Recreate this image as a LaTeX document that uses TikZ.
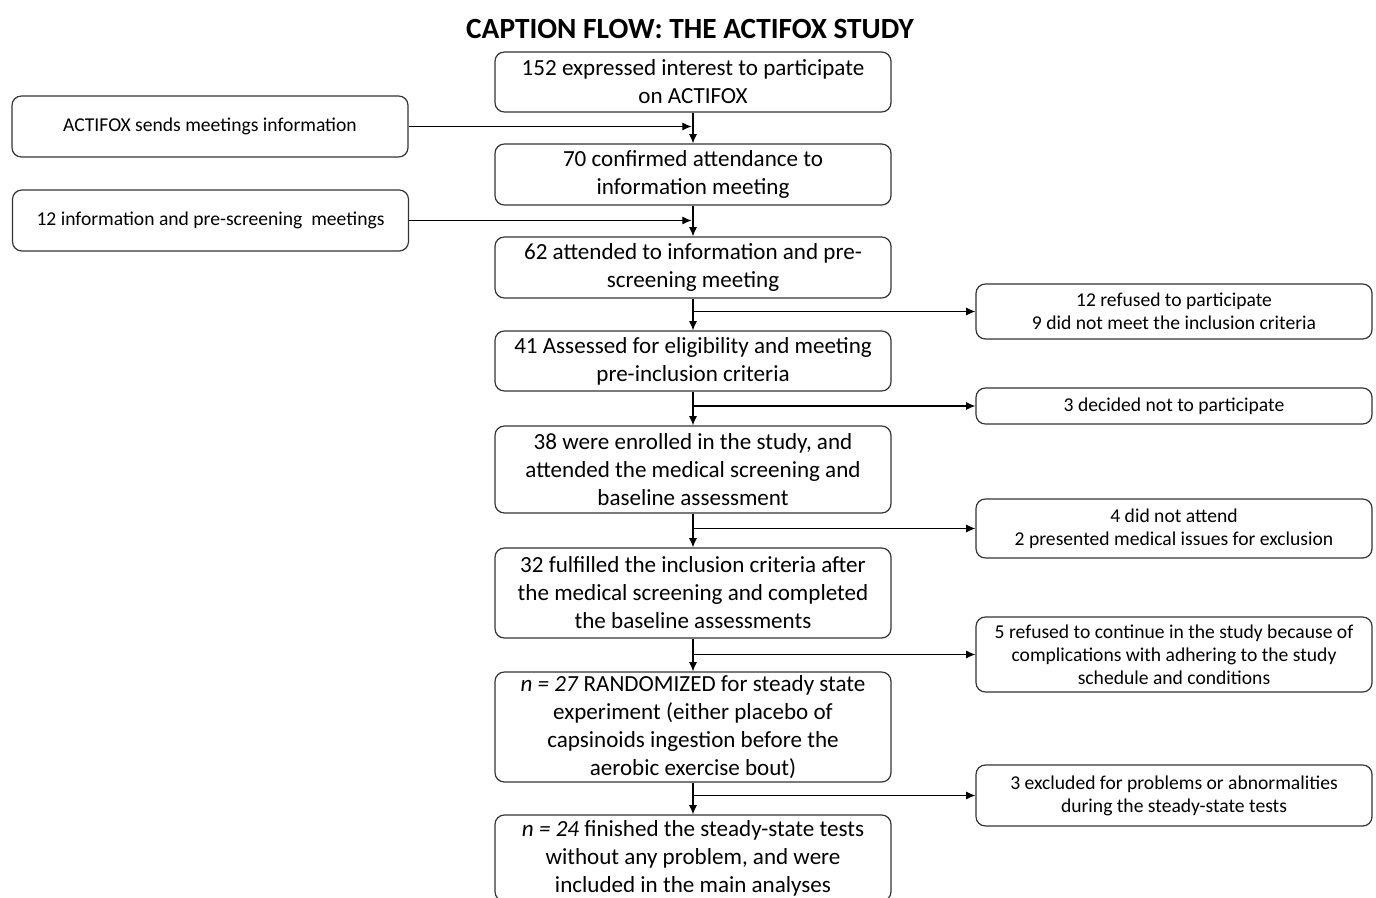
\documentclass[tikz,border=0pt]{standalone}
\usepackage{fontspec}
\setmainfont{Carlito}
\usetikzlibrary{arrows.meta}
\begin{document}
\begin{tikzpicture}[x=0.75pt,y=-0.75pt,
  box/.style={draw=black!80, line width=0.9pt, rounded corners=7pt, align=center, inner sep=0pt},
  mainbox/.style={box, minimum width=297pt, font=\fontsize{17.3}{21}\selectfont},
  sidebox/.style={box, minimum width=297pt, font=\fontsize{14.7}{17.2}\selectfont},
  arr/.style={line width=0.8pt, -{Latex[length=7pt,width=6pt]}},
  ln/.style={line width=0.8pt}]
\useasboundingbox (0,0) rectangle (1376,898);
\node[font=\fontsize{22}{26}\selectfont\bfseries] (title) at (690,29) {CAPTION FLOW: THE ACTIFOX STUDY};
\node[mainbox, minimum height=45pt] (b1) at (693,82) {152 expressed interest to participate\\on ACTIFOX};
\node[mainbox, minimum height=45.75pt] (b2) at (693,174.5) {70 confirmed attendance to\\information meeting};
\node[mainbox, minimum height=45.75pt] (b3) at (693,267.5) {62 attended to information and pre-\\screening meeting};
\node[mainbox, minimum height=45pt] (b4) at (693,361) {41 Assessed for eligibility and meeting\\pre-inclusion criteria};
\node[mainbox, minimum height=65.25pt] (b5) at (693,469.5) {38 were enrolled in the study, and\\attended the medical screening and\\baseline assessment};
\node[mainbox, minimum height=67.5pt] (b6) at (693,593) {32 fulfilled the inclusion criteria after\\the medical screening and completed\\the baseline assessments};
\node[mainbox, minimum height=82.5pt] (b7) at (693,727) {\textit{n = 27} RANDOMIZED for steady state\\experiment (either placebo of\\capsinoids ingestion before the\\aerobic exercise bout)};
\node[mainbox, minimum height=64.5pt] (b8) at (693,858) {\textit{n = 24} finished the steady-state tests\\without any problem, and were\\included in the main analyses};
\node[sidebox, minimum height=45.75pt] (l1) at (210,126.5) {ACTIFOX sends meetings information};
\node[sidebox, minimum height=45.75pt] (l2) at (210.5,220.5) {12 information and pre-screening\ \ meetings};
\node[sidebox, minimum height=41.25pt] (r1) at (1174,311.5) {12 refused to participate\\9 did not meet the inclusion criteria};
\node[sidebox, minimum height=27pt] (r2) at (1174,406) {3 decided not to participate};
\node[sidebox, minimum height=44.25pt] (r3) at (1174,528.5) {4 did not attend\\2 presented medical issues for exclusion};
\node[sidebox, minimum height=56.25pt] (r4) at (1174,654.5) {5 refused to continue in the study because of\\complications with adhering to the study\\schedule and conditions};
\node[sidebox, minimum height=45.75pt] (r5) at (1174,795.5) {3 excluded for problems or abnormalities\\during the steady-state tests};
\foreach \a/\b in {b1/b2,b2/b3,b3/b4,b4/b5,b5/b6,b6/b7,b7/b8}
  \draw[arr] (\a.south) -- (\b.north);
\draw[arr] (l1.east) -- ([xshift=-1pt]l1.east -| b1.south);
\draw[arr] (l2.east) -- ([xshift=-1pt]l2.east -| b2.south);
\draw[arr] (b3.south |- r1.west) -- (r1.west);
\draw[arr] (b4.south |- r2.west) -- (r2.west);
\draw[arr] (b5.south |- r3.west) -- (r3.west);
\draw[arr] (b6.south |- r4.west) -- (r4.west);
\draw[arr] (b7.south |- r5.west) -- (r5.west);
\end{tikzpicture}
\end{document}
